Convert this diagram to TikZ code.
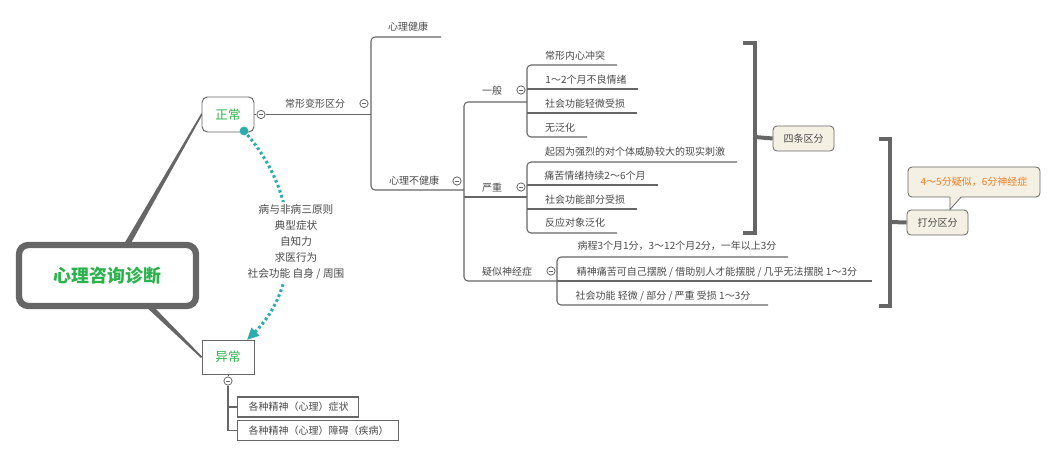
\documentclass[tikz,border=0pt]{standalone}
\usepackage{fontspec}
\setmainfont{Noto Sans CJK SC}
\usetikzlibrary{arrows.meta}
\definecolor{ln}{HTML}{666666}
\definecolor{tx}{HTML}{4A4A4A}
\definecolor{gr}{HTML}{2BB24C}
\definecolor{rel}{HTML}{2BADAF}
\definecolor{beige}{HTML}{F5F0E4}
\definecolor{org}{HTML}{EE7F22}
\tikzset{
  lbl/.style={font=\fontsize{7.5}{9}\selectfont, text=tx, inner sep=0pt},
  br/.style={draw=ln, line width=0.8pt, rounded corners=3pt},
  bk/.style={draw=ln, line width=3pt, line join=miter},
  cc/.style={circle, draw=ln, fill=white, line width=0.6pt, minimum size=6.2pt, inner sep=0pt},
  tag/.style={draw=ln, fill=beige, rounded corners=3pt, line width=0.6pt, font=\fontsize{7.5}{9}\selectfont, text=tx, minimum width=45.75pt, minimum height=18.75pt, inner sep=0pt},
  sub/.style={draw=ln, line width=0.8pt, font=\fontsize{7.5}{9}\selectfont, text=tx, minimum height=15pt, inner sep=0pt, anchor=west},
  rell/.style={draw=rel, line width=2.3pt, dash pattern=on 2pt off 2pt},
}
\newcommand\coll[2]{\node[cc] (#1) at (#2) {};\draw[ln, line width=0.6pt] ([xshift=-1.6pt]#1.center) -- ([xshift=1.6pt]#1.center);}
\begin{document}
\begin{tikzpicture}[x=0.75pt,y=-0.75pt]
\useasboundingbox (0,0) rectangle (1057,457);

% root and main branches (tapered)
\node[draw=ln, line width=4.8pt, rounded corners=7pt, minimum width=132.75pt, minimum height=45.75pt, font=\fontsize{13.4}{15}\selectfont\bfseries, text=gr] (root) at (107.5,275.5) {心理咨询诊断};
\node[draw=ln, line width=0.7pt, rounded corners=4pt, minimum width=39pt, minimum height=26.25pt, font=\fontsize{9.4}{11}\selectfont, text=gr] (zc) at (228,114.5) {正常};
\node[draw=ln, line width=0.7pt, minimum width=39pt, minimum height=25.5pt, font=\fontsize{9.4}{11}\selectfont, text=gr] (yc) at (228,357) {异常};
\fill[ln] (124,244) -- (130.5,244) -- (202,115.5) -- (201.5,113) -- cycle;
\fill[ln] (144,305) -- (152,305) -- (202,356.5) -- (201,358) -- cycle;

% relationship
\coordinate (rs) at (244,131);
\coordinate (re) at (247,340);
\draw[rell, -{Triangle[length=9pt,width=8pt]}] (rs) .. controls (302,195) and (302,285) .. (re);
\fill[rel] (rs) circle (3.3pt);
\node[font=\fontsize{8}{12}\selectfont, text=tx, align=center, fill=white, inner sep=2pt] (rlab) at (296,242) {病与非病三原则\\典型症状\\自知力\\求医行为\\社会功能 自身 / 周围};

% 异常 children
\coll{cy}{228,381}
\draw[ln, line width=0.6pt] (yc.south) -- (cy.north);
\node[sub] (y1) at (237,407) {\makebox[90.75pt][l]{\hspace*{8.25pt}各种精神（心理）症状}};
\node[sub] (y2) at (237,430.5) {\makebox[120.75pt][l]{\hspace*{8.25pt}各种精神（心理）障碍（疾病）}};
\draw[ln, line width=1pt] (cy.south) -- (228,430.5) -- (y2.west);
\draw[ln, line width=1pt] (228,407) -- (y1.west);

% 正常 branch
\coll{c0}{261,114.5}
\draw[ln, line width=0.6pt] (zc.east) -- (c0.west);
\node[lbl] (n0) at (315,104) {常形变形区分};
\coll{c1}{364,103.5}
\draw[br] (c0.east) -- (371,114.5);

% level 1
\node[lbl] (n1a) at (408,27) {心理健康};
\node[lbl] (n1b) at (414,181) {心理不健康};
\coll{c1b}{457,181}
\draw[br] (441,37) -- (371,37) -- (371,190) -- (464,190);

% level 2
\node[lbl] (n2a) at (492,91) {一般};
\coll{c2a}{521,90}
\node[lbl] (n2b) at (492,188) {严重};
\coll{c2b}{521,187}
\node[lbl] (n2c) at (507,272) {疑似神经症};
\coll{c2c}{551,271}
\draw[br] (527,102) -- (464,102) -- (464,281) -- (557,281);
\draw[br] (464,197) -- (527,197);

% level 3: 一般
\node[lbl] (a1) at (575,56) {常形内心冲突};
\node[lbl] (a2) at (586,80) {1～2个月不良情绪};
\node[lbl] (a3) at (585,104) {社会功能轻微受损};
\node[lbl] (a4) at (560,128) {无泛化};
\draw[br] (617,65) -- (527,65) -- (527,137) -- (587,137);
\draw[br] (527,89) -- (638,89);
\draw[br] (527,113) -- (637,113);

% level 3: 严重
\node[lbl] (b1) at (635,152) {起因为强烈的对个体威胁较大的现实刺激};
\node[lbl] (b2) at (595,176) {痛苦情绪持续2～6个月};
\node[lbl] (b3) at (585,200) {社会功能部分受损};
\node[lbl] (b4) at (575,223) {反应对象泛化};
\draw[br] (737,162) -- (527,162) -- (527,233) -- (617,233);
\draw[br] (527,185) -- (658,185);
\draw[br] (527,209) -- (637,209);

% level 3: 疑似神经症
\node[lbl] (s1) at (677,246) {病程3个月1分，3～12个月2分，一年以上3分};
\node[lbl] (s2) at (717,272) {精神痛苦可自己摆脱 / 借助别人才能摆脱 / 几乎无法摆脱 1～3分};
\node[lbl] (s3) at (663,296) {社会功能 轻微 / 部分 / 严重 受损 1～3分};
\draw[br] (788,257) -- (557,257) -- (557,305) -- (768,305);
\draw[br] (557,281) -- (872,281);

% brackets and summaries
\draw[bk] (743,43) -- (755,43) -- (755,233) -- (743,233);
\coordinate (k1) at (755,137);
\node[tag] (t1) at (803.5,138.5) {四条区分};
\draw[bk] (k1) -- (t1.west);
\draw[bk] (879,139) -- (890,139) -- (890,306) -- (879,306);
\coordinate (k2) at (890,222);
\node[tag] (t2) at (937.5,222.5) {打分区分};
\draw[bk] (k2) -- (t2.west);
\node[tag, minimum width=99pt, minimum height=22.5pt, text=org] (cal) at (974,182) {4～5分疑似，6分神经症};
\coordinate (tip) at (950,209.5);
\fill[beige] (950,196) -- (tip) -- (961,196) -- cycle;
\draw[ln, line width=0.6pt] (950,197.2) -- (tip) -- (961,197.2);
\end{tikzpicture}
\end{document}
